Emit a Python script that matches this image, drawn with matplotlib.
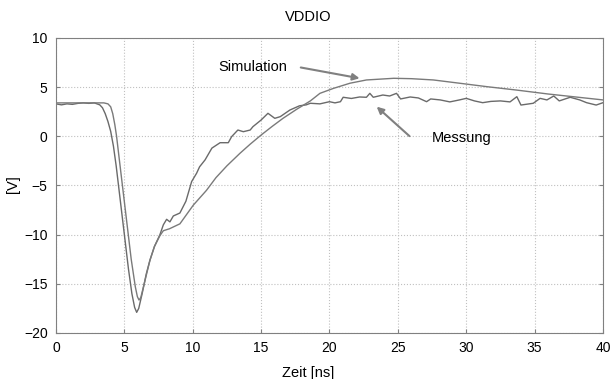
import numpy as np
import matplotlib.pyplot as plt

plt.rcParams['font.family'] = ['Liberation Sans', 'DejaVu Sans']

# Messung (verrauscht)
t_mess = [0, 0.4, 0.8, 1.2, 1.6, 2.0, 2.4, 2.8, 3.0, 3.2, 3.4, 3.6, 3.8, 4.0,
          4.2, 4.4, 4.7, 5.0, 5.3, 5.55, 5.75, 5.9, 6.05, 6.3, 6.6, 6.87, 7.2,
          7.6, 7.85, 8.09, 8.33, 8.58, 9.06, 9.5, 9.92, 10.28, 10.5, 10.9, 11.4,
          12.0, 12.6, 12.84, 13.3, 13.7, 14.2, 14.4, 15.0, 15.5, 16.0, 16.4,
          17.1, 17.8, 18.3, 18.6, 19.3, 20.0, 20.4, 20.8, 21.0, 21.6, 22.2,
          22.7, 22.95, 23.2, 23.9, 24.4, 24.9, 25.2, 25.9, 26.5, 27.1, 27.4,
          28.1, 28.8, 29.5, 30.0, 30.6, 31.2, 31.8, 32.5, 33.2, 33.7, 34.0,
          34.9, 35.4, 35.9, 36.4, 36.8, 37.6, 38.3, 38.8, 39.5, 40.0]
v_mess = [3.3, 3.2, 3.3, 3.25, 3.35, 3.4, 3.35, 3.4, 3.3, 3.2, 2.9, 2.3, 1.5, 0.5,
          -1.0, -3.0, -6.5, -10.0, -13.5, -16.0, -17.4, -17.9, -17.5, -16.0, -14.0,
          -12.6, -11.2, -10.0, -9.0, -8.44, -8.7, -8.1, -7.8, -6.6, -4.6, -3.76,
          -3.1, -2.4, -1.2, -0.65, -0.65, -0.04, 0.64, 0.47, 0.64, 0.98, 1.66,
          2.34, 1.83, 2.0, 2.67, 3.1, 3.2, 3.36, 3.3, 3.52, 3.4, 3.52, 3.97, 3.85,
          4.0, 3.97, 4.37, 3.97, 4.2, 4.1, 4.37, 3.8, 4.0, 3.9, 3.52, 3.8, 3.7,
          3.5, 3.7, 3.86, 3.6, 3.42, 3.55, 3.6, 3.5, 4.03, 3.18, 3.36, 3.86, 3.7,
          4.1, 3.6, 3.97, 3.7, 3.42, 3.18, 3.42]

# Simulation (glatt)
t_sim = [0, 1, 2, 3, 3.5, 3.8, 4.0, 4.15, 4.3, 4.43, 4.6, 4.9, 5.2, 5.5, 5.8,
         5.95, 6.07, 6.2, 6.45, 6.87, 7.2, 7.6, 7.85, 8.3, 9.06, 10.04, 11.0,
         11.7, 12.5, 13.45, 14.2, 15.0, 15.8, 16.6, 17.6, 18.6, 19.3, 20.3,
         21.5, 22.7, 24.7, 26.0, 27.6, 29.5, 31.5, 33.7, 36.0, 38.0, 40.0]
v_sim = [3.4, 3.4, 3.4, 3.4, 3.4, 3.3, 3.0, 2.3, 1.2, 0.0, -2.0, -5.5, -9.0,
         -12.5, -15.3, -16.3, -16.65, -16.4, -15.0, -12.6, -11.2, -10.1, -9.6,
         -9.4, -8.9, -7.0, -5.5, -4.2, -3.0, -1.73, -0.8, 0.13, 1.0, 1.83, 2.75,
         3.6, 4.37, 4.88, 5.4, 5.73, 5.9, 5.86, 5.73, 5.4, 5.05, 4.7, 4.3, 4.0,
         3.7]

fig = plt.figure(figsize=(6.16, 3.79), dpi=100)
ax = fig.add_axes([0.0909, 0.1214, 0.888, 0.7784])

ax.plot(t_mess, v_mess, color='#6a6a6a', lw=1.0)
ax.plot(t_sim, v_sim, color='#7a7a7a', lw=1.0)

ax.set_xlim(0, 40)
ax.set_ylim(-20, 10)
ax.set_xticks(np.arange(0, 41, 5))
ax.set_yticks(np.arange(-20, 11, 5))
ax.grid(True, linestyle=':', color='#c0c0c0', linewidth=0.8)
for s in ax.spines.values():
    s.set_color('#808080')
ax.tick_params(direction='in', length=3, color='#808080', labelsize=10,
               right=True, pad=6)

# Titel und x-Beschriftung sind auf die Bildmitte zentriert
fig.text(0.5, 1 - 17 / 379, 'VDDIO', fontsize=10.5, ha='center', va='center')
fig.text(0.5, 1 - 373 / 379, 'Zeit [ns]', fontsize=10.5, ha='center', va='center')
fig.text(13 / 616, 1 - 184 / 379, '[V]', fontsize=10.5, ha='center', va='center',
         rotation=90)

# Beschriftungen mit Pfeilen
ax.text(11.9, 7.05, 'Simulation', fontsize=10.5, ha='left', va='center')
ax.annotate('', xy=(22.4, 5.85), xytext=(17.7, 7.05),
            arrowprops=dict(arrowstyle='-|>', color='#808080', lw=1.5,
                            mutation_scale=10))
ax.text(27.5, -0.17, 'Messung', fontsize=10.5, ha='left', va='center')
ax.annotate('', xy=(23.3, 3.2), xytext=(26.0, -0.17),
            arrowprops=dict(arrowstyle='-|>', color='#808080', lw=1.5,
                            mutation_scale=10))

fig.savefig('out.png', dpi=100)
